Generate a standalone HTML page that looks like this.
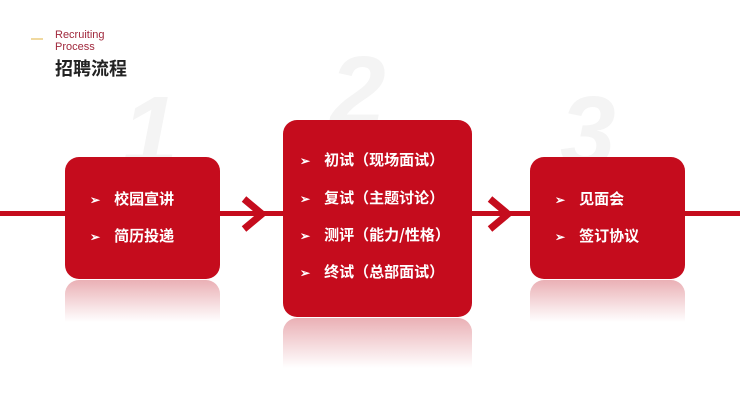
<!DOCTYPE html>
<html><head><meta charset="utf-8"><style>
body{margin:0;width:740px;height:416px;background:#fff;position:relative;overflow:hidden;font-family:"Liberation Sans","Noto Sans CJK SC",sans-serif}
.num{position:absolute;font-family:"Liberation Sans",sans-serif;font-weight:bold;font-style:italic;color:#f4f4f4;font-size:100px;line-height:1}
.box{position:absolute;background:#c50c1d;border-radius:14px;color:#fff;font-weight:bold;font-size:15px;font-family:"Noto Sans CJK SC",sans-serif}
.box div{position:absolute;left:0;white-space:nowrap}
.box span{font-size:12px;margin-right:14px}
.refl{position:absolute;border-radius:14px 14px 0 0;background:linear-gradient(#eab0b5,rgba(255,255,255,0) )}
.line{position:absolute;left:0;width:740px;top:211px;height:5px;background:#c50c1d}
</style></head><body>
<div style="position:absolute;left:31px;top:38px;width:12px;height:2px;background:#f0d9a0"></div>
<div style="position:absolute;left:55px;top:29px;font-size:11px;line-height:12px;color:#a0283c">Recruiting<br>Process</div>
<div style="position:absolute;left:55px;top:56px;font-size:18px;font-weight:bold;color:#222;font-family:'Noto Sans CJK SC',sans-serif;line-height:24px">招聘流程</div>
<div class="num" style="left:122px;top:82px">1</div>
<div class="num" style="left:330px;top:42px">2</div>
<div class="num" style="left:560px;top:82px">3</div>
<div class="line"></div>
<svg style="position:absolute;left:0;top:0" width="740" height="416"><g fill="none" stroke="#c50c1d" stroke-width="7"><polyline points="244,199 262,214 244,229"/><polyline points="490,199 508,214 490,229"/></g></svg>
<div class="refl" style="left:65px;top:280px;width:155px;height:42px"></div>
<div class="refl" style="left:283px;top:318px;width:189px;height:50px"></div>
<div class="refl" style="left:530px;top:280px;width:155px;height:42px"></div>
<div class="box" style="left:65px;top:157px;width:155px;height:122px">
<div style="left:25px;top:31px"><span>➢</span>校园宣讲</div>
<div style="left:25px;top:68px"><span>➢</span>简历投递</div></div>
<div class="box" style="left:283px;top:120px;width:189px;height:197px">
<div style="left:17px;top:29px"><span>➢</span>初试（现场面试）</div>
<div style="left:17px;top:67px"><span>➢</span>复试（主题讨论）</div>
<div style="left:17px;top:104px"><span>➢</span>测评（能力/性格）</div>
<div style="left:17px;top:141px"><span>➢</span>终试（总部面试）</div></div>
<div class="box" style="left:530px;top:157px;width:155px;height:122px">
<div style="left:25px;top:31px"><span>➢</span>见面会</div>
<div style="left:25px;top:68px"><span>➢</span>签订协议</div></div>
</body></html>
